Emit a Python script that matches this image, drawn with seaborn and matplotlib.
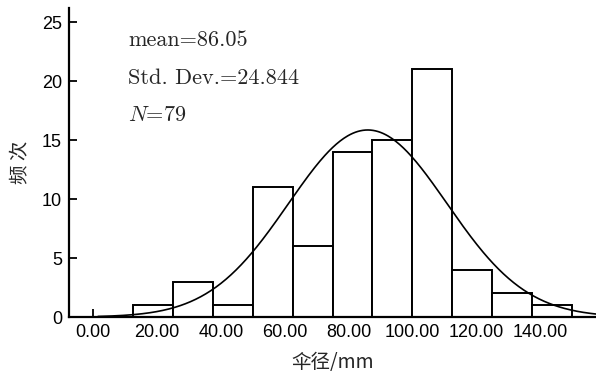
import numpy as np
import pandas as pd
import matplotlib
matplotlib.use("Agg")
import matplotlib.pyplot as plt
import seaborn as sns

# Data
bin_edges = [12.5, 25.0, 37.5, 50.0, 62.5, 75.0, 87.5, 100.0, 112.5, 125.0, 137.5, 150.0]
counts = [1, 3, 1, 11, 6, 14, 15, 21, 4, 2, 1]
mean_val = 86.05
std_val = 24.844
n_total = 79
x_ticks = [0, 20, 40, 60, 80, 100, 120, 140]
y_ticks = [0, 5, 10, 15, 20, 25]

sns.set_theme(style="ticks")
plt.rcParams['font.family'] = ['Liberation Sans', 'Noto Sans CJK SC', 'DejaVu Sans']
plt.rcParams['mathtext.fontset'] = 'cm'

centers = [(a + b) / 2 for a, b in zip(bin_edges[:-1], bin_edges[1:])]
df = pd.DataFrame({"diam": centers, "count": counts})

fig = plt.figure(figsize=(5.96, 3.79), dpi=100)
ax = fig.add_axes([69 / 596, 1 - 317 / 379, 1 - 69 / 596, (317 - 8) / 379])

sns.histplot(data=df, x="diam", weights="count", bins=bin_edges, ax=ax,
             stat="count", color="white", edgecolor="black", linewidth=1.4,
             alpha=1.0)

# Fitted normal curve (scaled to counts)
bw = bin_edges[1] - bin_edges[0]
xs = np.linspace(1.5, 160, 400)
ys = n_total * bw / (std_val * np.sqrt(2 * np.pi)) * np.exp(-0.5 * ((xs - mean_val) / std_val) ** 2)
ax.plot(xs, ys, color="black", linewidth=1.2)

ax.set_xlim(-7.6, 157.6)
ax.set_ylim(0, 26.2)
ax.set_xticks(x_ticks)
ax.set_xticklabels([f"{v:.2f}" for v in x_ticks])
ax.set_yticks(y_ticks)
ax.tick_params(axis="both", direction="in", length=6, width=1.3, labelsize=13,
               color="black", labelcolor="black")
ax.tick_params(axis="y", pad=5)
ax.tick_params(axis="x", pad=5)

for s in ["top", "right"]:
    ax.spines[s].set_visible(False)
for s in ["left", "bottom"]:
    ax.spines[s].set_linewidth(1.6)
    ax.spines[s].set_color("black")

ax.set_xlabel("伞径/mm", fontsize=14, family=['Noto Sans CJK SC', 'DejaVu Sans'], labelpad=8)
ax.set_ylabel("频 次", fontsize=14, family=['Noto Sans CJK SC', 'DejaVu Sans'], labelpad=8)

fig_h = 379
for txt, ypx in [("mean=86.05", 40),
                 ("Std. Dev.=24.844", 78),
                 ("$N$=79", 115)]:
    fig.text(128 / 596, 1 - ypx / fig_h, txt, fontsize=16, va="center", ha="left",
             family="cmr10")

fig.savefig("out.png", dpi=100)
